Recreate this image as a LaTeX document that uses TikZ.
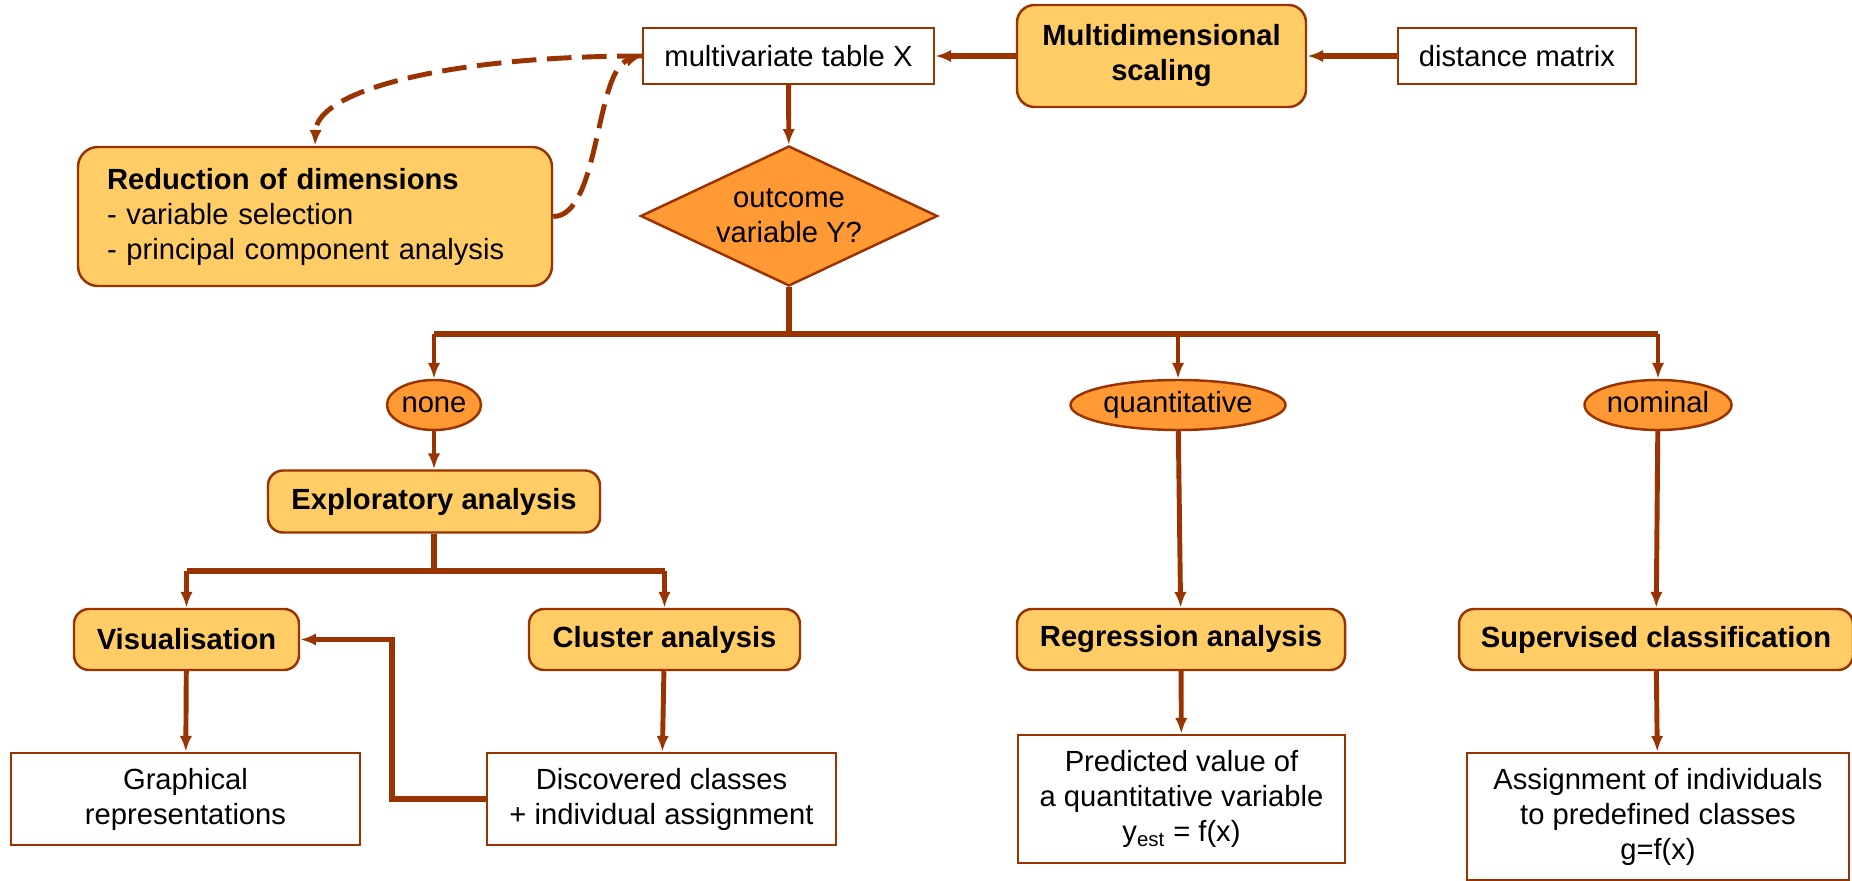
\documentclass[tikz,border=0pt]{standalone}
\usepackage{fontspec}
\setmainfont{Liberation Sans}
\usetikzlibrary{positioning, arrows.meta, shapes.geometric}
\definecolor{rust}{HTML}{993300}
\definecolor{paleorange}{HTML}{FFCC66}
\definecolor{deeporange}{HTML}{FF9933}

\begin{document}
\begin{tikzpicture}[
	>={Latex[length=9pt,width=7pt]},
	datbox/.style={draw=rust,line width=1.4pt,fill=white,inner sep=0pt,align=center,font=\fontsize{16.6}{19.9}\selectfont},
	task/.style={draw=rust,line width=1.4pt,fill=paleorange,rounded corners=0.3cm,inner sep=0pt,align=center,font=\fontsize{16.6}{19.9}\selectfont\bfseries},
	choice/.style={draw=rust,line width=1.4pt,fill=deeporange,inner sep=0pt,font=\fontsize{16.6}{19.9}\selectfont},
	oval/.style={choice,ellipse,minimum height=1cm,text height=12pt,text depth=3.5pt},
	link/.style={color=rust,line width=2.8pt},
	trunk/.style={color=rust,line width=3.3pt},
	feedback/.style={color=rust,line width=2.8pt,dash pattern=on 14pt off 6pt}]
	\useasboundingbox (0,0) rectangle (37.04,17.6);

	\node (mvt) at (15.77,16.48) [datbox,minimum width=5.82cm,minimum height=1.12cm] {multivariate table X};
	\node (mds) at (23.23,16.48) [task,rounded corners=0.35cm,minimum width=5.78cm,minimum height=2.04cm] {Multidimensional\\scaling};
	\node (dist) at (30.34,16.48) [datbox,minimum width=4.76cm,minimum height=1.12cm] {distance matrix};

	\node (red) at (6.30,13.27) [task,rounded corners=0.4cm,minimum width=9.48cm,minimum height=2.78cm,inner xsep=0.58cm,text width=8.32cm,align=left,font=\fontsize{16.6}{19.9}\selectfont] {\textbf{Reduction of dimensions}\\- variable selection\\- principal component analysis};
	\node (dec) at (15.78,13.28) [choice,diamond,aspect=2.12,minimum width=5.94cm,minimum height=2.8cm,align=center] {outcome\\variable Y?};

	%outcome types
	\node (none) at (8.68,9.50) [oval,minimum width=1.88cm] {none};
	\node (quant) at (23.56,9.50) [oval,minimum width=4.30cm] {quantitative};
	\node (nom) at (33.16,9.50) [oval,minimum width=2.94cm] {nominal};

	\node (expl) at (8.68,7.57) [task,minimum width=6.64cm,minimum height=1.24cm] {Exploratory analysis};
	\node (vis) at (3.73,4.81) [task,minimum width=4.50cm,minimum height=1.22cm] {Visualisation};
	\node (clus) at (13.29,4.81) [task,minimum width=5.42cm,minimum height=1.22cm] {Cluster analysis};
	\node (regr) at (23.62,4.81) [task,minimum width=6.56cm,minimum height=1.22cm] {Regression analysis};
	\node (sup) at (33.12,4.81) [task,minimum width=7.88cm,minimum height=1.22cm] {Supervised classification};

	%results
	\node (graph) at (3.71,1.62) [datbox,minimum width=6.98cm,minimum height=1.84cm] {Graphical\\representations};
	\node (disc) at (13.23,1.62) [datbox,minimum width=6.98cm,minimum height=1.84cm] {Discovered classes\\+ individual assignment};
	\node (pred) at (23.63,1.62) [datbox,minimum width=6.54cm,minimum height=2.56cm] {Predicted value of\\a quantitative variable\\y\textsubscript{est} = f(x)};
	\node (assign) at (33.16,1.27) [datbox,minimum width=7.64cm,minimum height=2.54cm] {Assignment of individuals\\to predefined classes\\g=f(x)};

	\coordinate (jdec) at (15.78,10.92);
	\coordinate (jnone) at (8.68,10.92);
	\coordinate (jquant) at (23.56,10.92);
	\coordinate (jnom) at (33.16,10.92);
	\coordinate (jexpl) at (8.68,6.18);
	\coordinate (jvis) at (3.73,6.18);
	\coordinate (jclus) at (13.29,6.18);

	\path[->,trunk] (mds) edge (mvt);
	\path[->,trunk] (dist) edge (mds);
	\path[->,link] (mvt) edge (dec);

	\draw[trunk] (dec) -- (jdec);
	\draw[trunk] (jnone) -- (jnom);
	\path[->,link] (jnone) edge (none);
	\path[->,link] (jquant) edge (quant);
	\path[->,link] (jnom) edge (nom);

	\path[->,link] (none) edge (expl);
	\draw[trunk] (expl) -- (jexpl);
	\draw[trunk] (jvis) -- (jclus);
	\path[->,link] (jvis) edge (vis);
	\path[->,link] (jclus) edge (clus);
	\path[->,link] (quant) edge (regr);
	\path[->,link] (nom) edge (sup);

	\path[->,link] (vis) edge (graph);
	\path[->,link] (clus) edge (disc);
	\path[->,link] (regr) edge (pred);
	\path[->,link] (sup) edge (assign);
	\draw[->,trunk] (disc.west) -- ++(-1.88,0) |- (vis.east);

	%dashed loop
	\draw[->,feedback] (mvt.west) .. controls (9.0,16.48) and (6.34,15.8) .. (red.north);
	\draw[->,feedback] (red.east) .. controls (12.0,13.27) and (11.9,16.2) .. (mvt.west);
\end{tikzpicture}
\end{document}
